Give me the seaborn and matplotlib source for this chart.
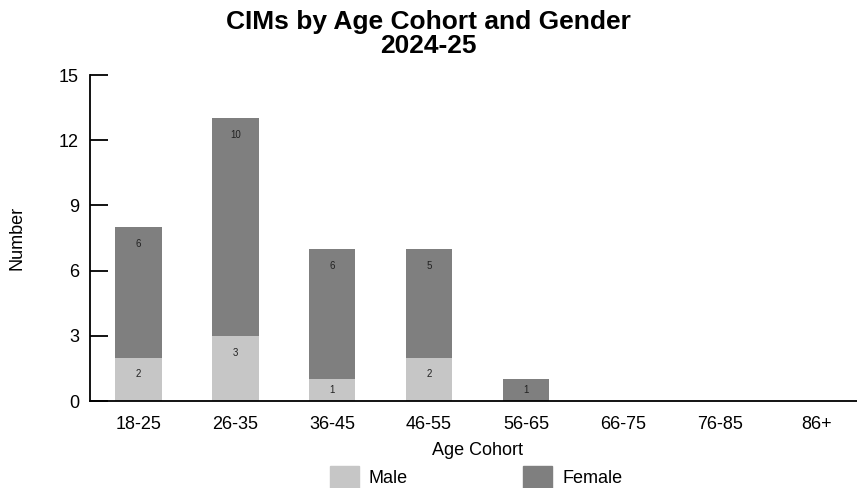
import matplotlib
matplotlib.use("Agg")
import matplotlib.pyplot as plt
import seaborn as sns
import pandas as pd

# Counts by age cohort and gender
cohorts = ["18-25", "26-35", "36-45", "46-55", "56-65", "66-75", "76-85", "86+"]
male = [2, 3, 1, 2, 0, 0, 0, 0]
female = [6, 10, 6, 5, 1, 0, 0, 0]
y_ticks = [0, 3, 6, 9, 12, 15]

male_color = "#c6c6c6"
female_color = "#7f7f7f"

sns.set_style("white")
plt.rcParams["font.family"] = ["Liberation Sans", "DejaVu Sans"]
plt.rcParams["text.color"] = "black"
plt.rcParams["axes.labelcolor"] = "black"
plt.rcParams["xtick.color"] = "black"
plt.rcParams["ytick.color"] = "black"

df = pd.DataFrame({"cohort": cohorts, "male": male, "female": female})
df["total"] = df["male"] + df["female"]

fig = plt.figure(figsize=(8.57, 4.88), dpi=100)
ax = fig.add_axes([90 / 857, 1 - 401 / 488, (865 - 90) / 857, (401 - 75) / 488])

# Stacked bars: full height in the female shade, male part drawn over the base
sns.barplot(data=df, x="cohort", y="total", order=cohorts, color=female_color,
            saturation=1, width=0.48, ax=ax, linewidth=0)
sns.barplot(data=df, x="cohort", y="male", order=cohorts, color=male_color,
            saturation=1, width=0.48, ax=ax, linewidth=0)

ax.set_ylim(0, 15)
ax.set_xlim(-0.5, 7.5)
ax.set_yticks(y_ticks)

# Value labels near the top of each segment
for i, (m, f) in enumerate(zip(male, female)):
    for bottom, h in ((0, m), (m, f)):
        if h > 0:
            top = bottom + h
            ax.text(i, top - min(0.78, h / 2), str(h), ha="center", va="center",
                    fontsize=7, color="#222222")

for side in ("top", "right"):
    ax.spines[side].set_visible(False)
for side in ("left", "bottom"):
    ax.spines[side].set_color("black")
    ax.spines[side].set_linewidth(1.3)

# Category separators as inward minor ticks on the x axis
ax.set_xticks([i + 0.5 for i in range(len(cohorts))], minor=True)
ax.tick_params(axis="x", which="major", length=0, pad=11, labelsize=13)
ax.tick_params(axis="x", which="minor", direction="in", length=6, width=1.3, color="black")
ax.tick_params(axis="y", which="major", direction="in", length=13, width=1.3,
               color="black", pad=8, labelsize=13, left=True)

ax.set_xlabel("Age Cohort", fontsize=13, labelpad=6)
ax.set_ylabel("Number", fontsize=13, labelpad=24)

fig.text(0.5, 1 - 34 / 488, "CIMs by Age Cohort and Gender\n2024-25", ha="center",
         va="center", fontsize=19, fontweight="bold", linespacing=0.95)

handles = [plt.Rectangle((0, 0), 1, 1, color=male_color),
           plt.Rectangle((0, 0), 1, 1, color=female_color)]
fig.legend(handles, ["Male", "Female"], loc="center", ncol=2,
           bbox_to_anchor=(476 / 857, 1 - 477 / 488), frameon=False, fontsize=13,
           handlelength=1.6, handleheight=1.5, handletextpad=0.55, columnspacing=6.4)

fig.savefig("out.png", dpi=100)
